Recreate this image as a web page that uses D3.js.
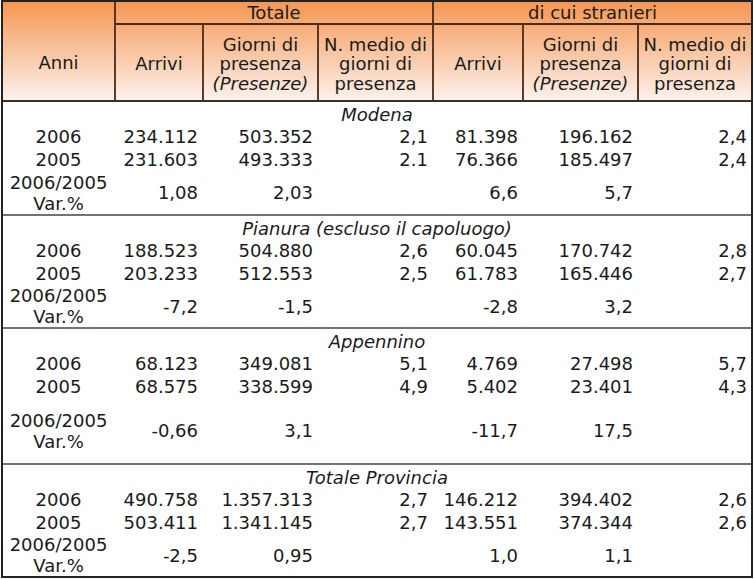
<!DOCTYPE html>
<html>
<head>
<meta charset="utf-8">
<script src="https://cdn.jsdelivr.net/npm/d3@7"></script>
<style>
  body { margin: 0; background: #fff; }
  text { font-family: "DejaVu Sans", Verdana, sans-serif; font-size: 18px; fill: #1a1a1a; }
</style>
</head>
<body>
<div id="chart"></div>
<script>
var width = 754;
var height = 579;

// data
var sections = ["Modena", "Pianura (escluso il capoluogo)", "Appennino", "Totale Provincia"];
var rowLabels = ["2006", "2005"];
var varLabel = ["2006/2005", "Var.%"];
var groupHeads = ["Totale", "di cui stranieri"];
var colHeads = [
    ["Arrivi"],
    ["Giorni di", "presenza", "(Presenze)"],
    ["N. medio di", "giorni di", "presenza"],
    ["Arrivi"],
    ["Giorni di", "presenza", "(Presenze)"],
    ["N. medio di", "giorni di", "presenza"]
];
var totArrivi = [["234.112", "231.603", "1,08"], ["188.523", "203.233", "-7,2"], ["68.123", "68.575", "-0,66"], ["490.758", "503.411", "-2,5"]];
var totPresenze = [["503.352", "493.333", "2,03"], ["504.880", "512.553", "-1,5"], ["349.081", "338.599", "3,1"], ["1.357.313", "1.341.145", "0,95"]];
var totMedia = [["2,1", "2.1", ""], ["2,6", "2,5", ""], ["5,1", "4,9", ""], ["2,7", "2,7", ""]];
var strArrivi = [["81.398", "76.366", "6,6"], ["60.045", "61.783", "-2,8"], ["4.769", "5.402", "-11,7"], ["146.212", "143.551", "1,0"]];
var strPresenze = [["196.162", "185.497", "5,7"], ["170.742", "165.446", "3,2"], ["27.498", "23.401", "17,5"], ["394.402", "374.344", "1,1"]];
var strMedia = [["2,4", "2,4", ""], ["2,8", "2,7", ""], ["5,7", "4,3", ""], ["2,6", "2,6", ""]];

var columns = [totArrivi, totPresenze, totMedia, strArrivi, strPresenze, strMedia];

// layout
var colEdges = [2, 115, 203, 318, 433, 523, 638, 752];
var headTop = 1, headMid = 24, headBottom = 101;
var sectionTops = [101, 215, 328, 464, 577];

var svg = d3.select("#chart")
    .append("svg")
    .attr("width", width)
    .attr("height", height);

var defs = svg.append("defs");
var grad = defs.append("linearGradient")
    .attr("id", "headGrad")
    .attr("x1", 0).attr("y1", 0).attr("x2", 0).attr("y2", 1);
grad.append("stop").attr("offset", "0%").attr("stop-color", "#f59652");
grad.append("stop").attr("offset", "45%").attr("stop-color", "#f8bf97");
grad.append("stop").attr("offset", "100%").attr("stop-color", "#fcf2ee");

svg.append("rect")
    .attr("x", colEdges[0]).attr("y", headTop)
    .attr("width", colEdges[7] - colEdges[0]).attr("height", headBottom - headTop)
    .attr("fill", "url(#headGrad)");

// header lines
var brown = "#4a2a18";
var hl = svg.append("g").attr("stroke", brown).attr("stroke-width", 1.8);
hl.append("line").attr("x1", colEdges[1]).attr("x2", colEdges[7]).attr("y1", headMid).attr("y2", headMid);
[1, 4].forEach(function(i){
    hl.append("line").attr("x1", colEdges[i]).attr("x2", colEdges[i]).attr("y1", headTop).attr("y2", headBottom);
});
[2, 3, 5, 6].forEach(function(i){
    hl.append("line").attr("x1", colEdges[i]).attr("x2", colEdges[i]).attr("y1", headMid).attr("y2", headBottom);
});

// header text
svg.append("text")
    .attr("x", (colEdges[0] + colEdges[1]) / 2).attr("y", 63)
    .attr("text-anchor", "middle").attr("dy", "0.35em")
    .text("Anni");

svg.selectAll(".group-head")
    .data(groupHeads)
    .enter().append("text")
    .attr("class", "group-head")
    .attr("x", function(d, i){ return (colEdges[1 + i * 3] + colEdges[4 + i * 3]) / 2; })
    .attr("y", 13)
    .attr("text-anchor", "middle").attr("dy", "0.35em")
    .text(function(d){ return d; });

colHeads.forEach(function(lines, c){
    var cx = (colEdges[c + 1] + colEdges[c + 2]) / 2;
    var y0 = 64 - (lines.length - 1) * 19.5 / 2;
    lines.forEach(function(t, k){
        svg.append("text")
            .attr("x", cx).attr("y", y0 + k * 19.5)
            .attr("text-anchor", "middle").attr("dy", "0.35em")
            .style("font-style", t.charAt(0) == "(" ? "italic" : "normal")
            .text(t);
    });
});

// body
sections.forEach(function(name, s){
    var top = sectionTops[s];
    var bottom = sectionTops[s + 1];
    var rowY = [top + 36, top + 58.5, (top + 70 + bottom) / 2];

    svg.append("text")
        .attr("x", (colEdges[0] + colEdges[7]) / 2).attr("y", top + 13.5)
        .attr("text-anchor", "middle").attr("dy", "0.35em")
        .style("font-style", "italic")
        .text(name);

    rowLabels.forEach(function(r, k){
        svg.append("text")
            .attr("x", (colEdges[0] + colEdges[1]) / 2).attr("y", rowY[k])
            .attr("text-anchor", "middle").attr("dy", "0.35em")
            .text(r);
    });
    varLabel.forEach(function(t, k){
        svg.append("text")
            .attr("x", (colEdges[0] + colEdges[1]) / 2).attr("y", rowY[2] + (k - 0.5) * 21)
            .attr("text-anchor", "middle").attr("dy", "0.35em")
            .text(t);
    });

    columns.forEach(function(col, c){
        col[s].forEach(function(v, k){
            svg.append("text")
                .attr("x", colEdges[c + 2] - 5).attr("y", rowY[k])
                .attr("text-anchor", "end").attr("dy", "0.35em")
                .text(v);
        });
    });

    if (s > 0) {
        svg.append("line")
            .attr("x1", colEdges[0]).attr("x2", colEdges[7])
            .attr("y1", top).attr("y2", top)
            .attr("stroke", "#444").attr("stroke-width", 1.5);
    }
});

// header bottom and outer border
svg.append("line")
    .attr("x1", colEdges[0]).attr("x2", colEdges[7])
    .attr("y1", headBottom).attr("y2", headBottom)
    .attr("stroke", "#333").attr("stroke-width", 2);

svg.append("rect")
    .attr("x", colEdges[0]).attr("y", headTop)
    .attr("width", colEdges[7] - colEdges[0]).attr("height", sectionTops[4] - headTop)
    .attr("fill", "none").attr("stroke", "#222").attr("stroke-width", 2);
</script>
</body>
</html>
